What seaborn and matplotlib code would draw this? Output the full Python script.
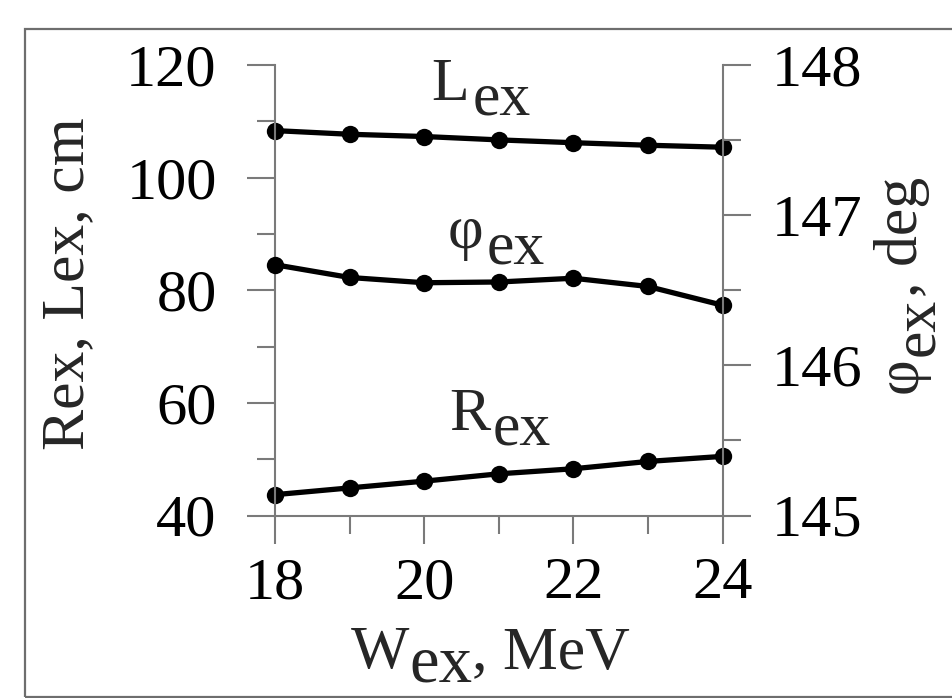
import matplotlib
matplotlib.use("Agg")
import numpy as np
import pandas as pd
import seaborn as sns
import matplotlib.pyplot as plt
import matplotlib.transforms as mtransforms
from matplotlib.patches import Rectangle

# ---------------- data ----------------
W_ex = [18, 19, 20, 21, 22, 23, 24]
L_ex = [108.35, 107.7, 107.3, 106.7, 106.2, 105.75, 105.4]
R_ex = [43.7, 44.9, 46.1, 47.4, 48.3, 49.6, 50.5]
phi_ex = [146.67, 146.585, 146.55, 146.555, 146.58, 146.525, 146.40]

x_major = [18, 20, 22, 24]
x_minor = [19, 21, 23]
left_major = [40, 60, 80, 100, 120]
left_minor = [50, 70, 90, 110]
right_major = [145, 146, 147, 148]
right_minor = [145.5, 146.5, 147.5]

# ---------------- style ----------------
sns.set_style("ticks")
plt.rcParams["font.family"] = ["Liberation Serif", "DejaVu Serif"]
FS = 43.5
LFS = 44.5
GRAY = "#7a7a7a"

fig = plt.figure(figsize=(9.52, 6.98), dpi=100)
ax = fig.add_axes([275 / 952, 1 - 515.5 / 698, 447.7 / 952, 450.5 / 698])
ax2 = ax.twinx()

df = pd.DataFrame({"W": W_ex, "L": L_ex, "R": R_ex, "phi": phi_ex})
line_kw = dict(color="black", linewidth=3.8, marker="o", markersize=12.5,
               markeredgewidth=0, markeredgecolor="black", clip_on=False)
sns.lineplot(data=df, x="W", y="L", ax=ax, **line_kw)
sns.lineplot(data=df, x="W", y="R", ax=ax, **line_kw)
sns.lineplot(data=df, x="W", y="phi", ax=ax2, **line_kw)

ax.set_xlim(18, 24)
ax.set_ylim(40, 120)
ax2.set_ylim(145, 148)
ax.set_xticks(x_major)
ax.set_xticks(x_minor, minor=True)
ax.set_yticks(left_major)
ax.set_yticks(left_minor, minor=True)
ax2.set_yticks(right_major)
ax2.set_yticks(right_minor, minor=True)
ax.set_xlabel("")
ax.set_ylabel("")
ax2.set_ylabel("")

for a in (ax, ax2):
    a.tick_params(which="both", direction="out", color=GRAY, width=1.5,
                  labelsize=FS, labelcolor="black")
ax.tick_params(axis="x", which="major", length=20, pad=10)
ax.tick_params(axis="x", which="minor", length=13)
ax.tick_params(axis="y", which="major", length=20, pad=22)
ax.tick_params(axis="y", which="minor", length=13)
ax2.tick_params(axis="y", which="major", length=20, pad=15)
ax2.tick_params(axis="y", which="minor", length=13)

for s in ("top", "right"):
    ax.spines[s].set_visible(False)
for s in ("left", "bottom"):
    ax.spines[s].set_color(GRAY)
    ax.spines[s].set_linewidth(1.5)
for s in ("top", "left", "bottom"):
    ax2.spines[s].set_visible(False)
ax2.spines["right"].set_color(GRAY)
ax2.spines["right"].set_linewidth(1.5)

# ---------------- text helpers ----------------
renderer = fig.canvas.get_renderer()
IDT = mtransforms.IdentityTransform()


def chain(pieces, x0, y0, rot=0, gap=2):
    pos = 0.0
    for s, drop, size in pieces:
        if rot == 0:
            x, y = x0 + pos, y0 - drop
        else:
            x, y = x0 + drop, y0 + pos
        t = fig.text(x, y, s, transform=IDT, fontsize=size, ha="left",
                     va="baseline", rotation=rot, rotation_mode="anchor")
        bb = t.get_window_extent(renderer)
        pos += (bb.width if rot == 0 else bb.height) + gap


DROP = 15
# in-plot labels (anchored in data coordinates of the left axis)
for main, (xd, yd) in (("L", (20.10, 113.8)),
                       ("φ", (20.32, 87.5)),
                       ("R", (20.33, 55.2))):
    px, py = ax.transData.transform((xd, yd))
    chain([(main, 0, LFS), ("ex", DROP, LFS)], px, py, gap=3)

# axis labels
chain([("W", 0, LFS), ("ex", 14, LFS * 1.08), (", MeV", 0, LFS)], 351, 30, gap=0)
chain([("Rex, Lex, cm", 0, LFS)], 83, 248, rot=90)
chain([("φ", 0, LFS), ("ex", 16, LFS), (", deg", 0, LFS)], 916.7, 305, rot=90, gap=1)

# partially cropped title fragment and frame
fig.text(656, 725, "g", transform=IDT, fontsize=FS, ha="center", va="baseline")
fig.add_artist(Rectangle((25, 1.5), 1000, 667.5, transform=IDT, fill=False,
                         edgecolor="#6e6e6e", linewidth=1.6, clip_on=False))

fig.savefig("out.png", dpi=100)
